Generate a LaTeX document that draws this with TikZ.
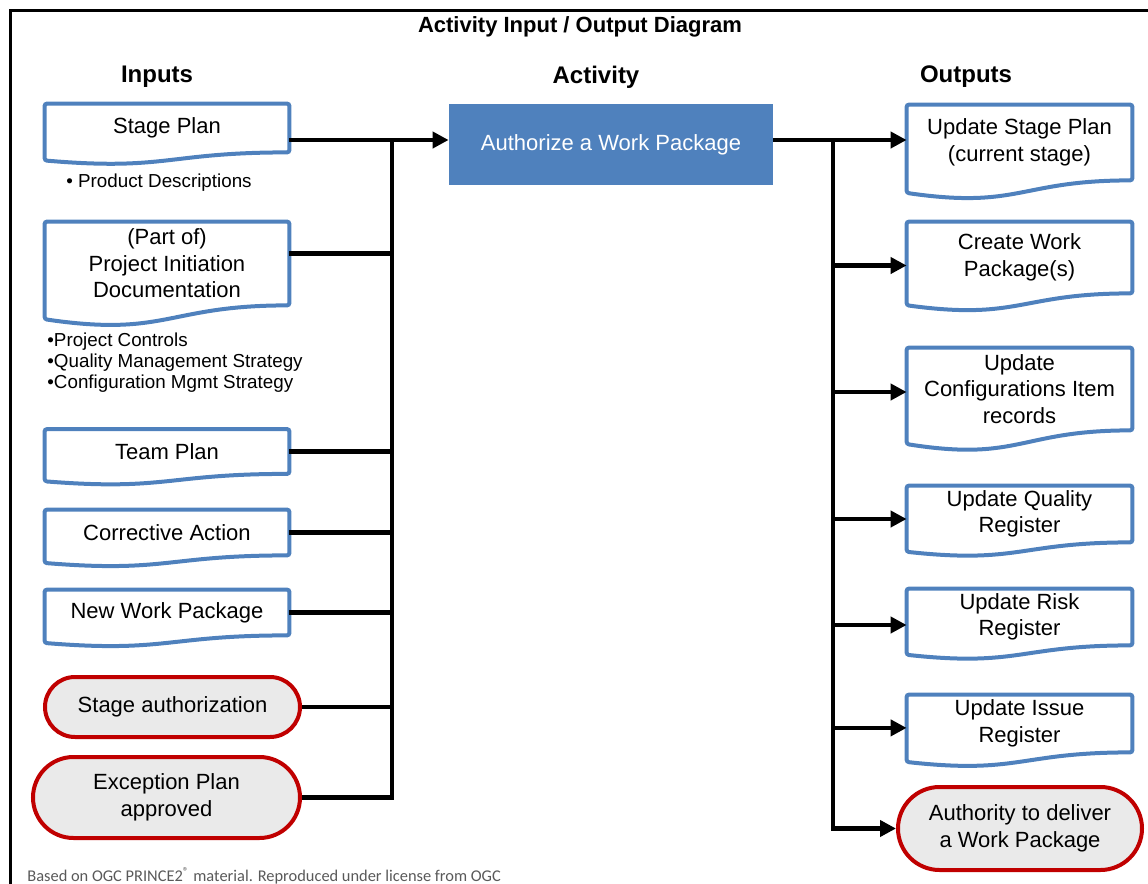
\documentclass[tikz,border=0pt]{standalone}
\usepackage{fontspec}
\setmainfont{Liberation Sans}
\newfontfamily\footfont{Carlito}
\usepackage{xcolor}
\usetikzlibrary{arrows.meta,calc,shapes.misc}
\definecolor{docBlue}{HTML}{4F81BD}
\definecolor{termRed}{HTML}{C00000}
\definecolor{termGray}{HTML}{EAEAEA}
\definecolor{footGray}{HTML}{595959}
\tikzset{
  docbox/.style={rectangle, inner sep=0pt, align=center, font=\fontsize{11}{13.3}\selectfont},
  indoc/.style={docbox, minimum width=122pt},
  outdoc/.style={docbox, minimum width=112.5pt},
  docline/.style={draw=docBlue, line width=2pt, rounded corners=1.2pt},
  termbox/.style={rounded rectangle, draw=termRed, fill=termGray, line width=2pt, inner sep=0pt, align=center, font=\fontsize{11}{13.3}\selectfont},
  actbox/.style={rectangle, fill=docBlue, text=white, inner sep=0pt, align=center, font=\fontsize{11}{13.3}\selectfont},
  head/.style={font=\bfseries\fontsize{12}{14}\selectfont},
  bullets/.style={align=left, inner sep=0pt, anchor=west, font=\fontsize{9.4}{10.5}\selectfont},
  line/.style={draw=black, line width=2.4pt},
  flow/.style={line, -{Triangle[length=8pt,width=8pt]}},
  frame/.style={draw=black, line width=1.5pt}
}

\begin{document}
\begin{tikzpicture}[x=0.5pt, y=-0.5pt]
  \useasboundingbox (0,0) rectangle (1148,884);
  \draw[frame] (10,884) -- (10,10) -- (1148,10);

  % headings
  \node[font=\bfseries\fontsize{11}{13}\selectfont] (title) at (580,27) {Activity Input / Output Diagram};
  \node[head] (inhead) at (157,77) {Inputs};
  \node[head] (acthead) at (596,77) {Activity};
  \node[head] (outhead) at (966,77) {Outputs};

  % inputs
  \node[indoc, minimum height=24pt] (stage) at (167,128) {Stage Plan};
  \node[bullets] (stagelist) at (66,183) {\textbullet\ Product Descriptions};
  \node[indoc, minimum height=41.5pt] (pid) at (167,263.5) {(Part of)\\Project Initiation\\Documentation};
  \node[bullets] (pidlist) at (47,363) {\textbullet Project Controls\\\textbullet Quality Management Strategy\\\textbullet Configuration Mgmt Strategy};
  \node[indoc, minimum height=22pt] (team) at (167,451.5) {Team Plan};
  \node[indoc, minimum height=22.5pt] (corr) at (167,532.5) {Corrective Action};
  \node[indoc, minimum height=22.5pt] (newwp) at (167,612.5) {New Work Package};
  \node[termbox, minimum width=127.5pt, minimum height=30pt] (sauth) at (172.5,707) {Stage authorization};
  \node[termbox, minimum width=133.5pt, minimum height=40.5pt] (exc) at (166.5,797.5) {Exception Plan\\approved};

  % activity
  \node[actbox, minimum width=162pt, minimum height=40.5pt] (auth) at (611,144.5) {Authorize a Work Package};

  % outputs
  \node[outdoc, minimum height=37.5pt] (usp) at (1019.5,142.5) {Update Stage Plan\\(current stage)};
  \node[outdoc, minimum height=35.5pt] (cwp) at (1019.5,257.5) {Create Work\\Package(s)};
  \node[outdoc, minimum height=41pt] (cir) at (1019.5,389) {Update\\Configurations Item\\records};
  \node[outdoc, minimum height=28pt] (uqr) at (1019.5,514) {Update Quality\\Register};
  \node[outdoc, minimum height=28pt] (urr) at (1019.5,617) {Update Risk\\Register};
  \node[outdoc, minimum height=28.5pt] (uir) at (1019.5,723.5) {Update Issue\\Register};
  \node[termbox, minimum width=122pt, minimum height=41.5pt] (atd) at (1020,828.5) {Authority to deliver\\a Work Package};

  % document outlines with wavy bottom
  \foreach \d in {stage,pid,team,corr,newwp,usp,cwp,cir,uqr,urr,uir}
    \draw[docline] (\d.north west) -- (\d.north east) -- (\d.south east)
      .. controls (\d.south) and ($(\d.south)!-0.38!(\d.north)$)
      .. ($(\d.south west)!-0.165!(\d.north west)$) -- cycle;

  % input bus
  \coordinate (inbus) at (392,140);
  \draw[flow] (stage.east |- inbus) -- (auth.west |- inbus);
  \draw[line] ([yshift=5pt]pid.east) -| (inbus);
  \draw[line] (team.east) -| (inbus);
  \draw[line] (corr.east) -| (inbus);
  \draw[line] (newwp.east) -| (inbus);
  \draw[line] (sauth.east) -| (inbus);
  \draw[line] (exc.east) -| (inbus);

  % output bus
  \coordinate (outbus) at (833,140);
  \draw[flow] (auth.east |- outbus) -- (usp.west |- outbus);
  \draw[flow] (outbus) |- ([yshift=-4pt]cwp.west);
  \draw[flow] (outbus) |- ([yshift=-1.5pt]cir.west);
  \draw[flow] (outbus) |- ([yshift=-2.5pt]uqr.west);
  \draw[flow] (outbus) |- ([yshift=-4pt]urr.west);
  \draw[flow] (outbus) |- ([yshift=-2.2pt]uir.west);
  \draw[flow] (outbus) |- (atd.west);

  \node[anchor=west, inner sep=0pt, text=footGray, font=\footfont\fontsize{8.2}{10}\selectfont] (foot) at (27,876) {Based on OGC PRINCE2\textsuperscript{®} material. Reproduced under license from OGC};
\end{tikzpicture}
\end{document}
